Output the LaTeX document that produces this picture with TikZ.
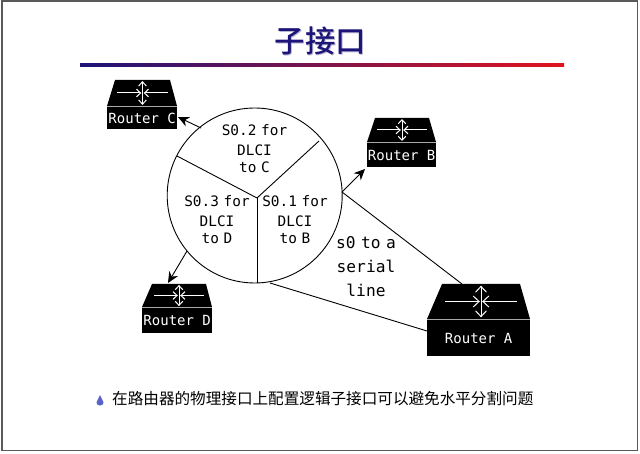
\documentclass[tikz,border=0pt]{standalone}
\usepackage{fontspec}
\usetikzlibrary{arrows.meta,shapes.geometric}
\newfontfamily\cjkf{Noto Sans CJK SC}
\newfontfamily\cjkb{Noto Sans CJK SC Medium}
\newfontfamily\monof{DejaVu Sans Mono}
\definecolor{navy}{RGB}{28,20,120}
\definecolor{ttshadow}{RGB}{185,185,210}
\definecolor{rulered}{RGB}{225,20,30}
\definecolor{drop}{RGB}{90,100,200}
\definecolor{sepgray}{RGB}{170,170,170}
\tikzset{
  x=1pt,y=-1pt,
  wire/.style={draw=black,line width=0.9pt},
  arrowwire/.style={wire,-{Stealth[length=11pt,width=10pt]}},
  mono/.style={font=\monof\fontsize{14.4}{17}\selectfont,align=center,inner sep=0pt,text=black},
  routertext/.style={font=\monof\fontsize{14}{16}\selectfont,text=white,inner sep=0pt},
  routertop/.style={fill=black,draw=none},
  routerbody/.style={fill=black,draw=none},
  icon/.style={draw=white,line width=1pt}
}
% \routerpic{name}{x1}{x2}{ytop}{ymid}{ybot}{topx1}{topx2}{label}
\newcommand{\routerpic}[9]{%
  \fill[routertop] (#7,#4) -- (#8,#4) -- (#3,#5-1) -- (#2,#5-1) -- cycle;
  \node[routerbody,minimum width=#3pt-#2pt,minimum height=#6pt-#5pt,inner sep=0pt,anchor=north west] (#1) at (#2,#5) {};
  \draw[sepgray,line width=0.8pt] (#2,#5-0.6) -- (#3,#5-0.6);
  \node[routertext] at (#1.center) {#9};
  \pgfmathsetmacro{\cx}{(#7+#8)/2}
  \pgfmathsetmacro{\cy}{(#4+#5)/2-0.5}
  \pgfmathsetmacro{\w}{(#8-#7)*0.46}
  \pgfmathsetmacro{\h}{(#5-#4)*0.44}
  \pgfmathsetmacro{\tl}{(#8-#7)*0.075}
  \pgfmathsetmacro{\tw}{(#8-#7)*0.14}
  \draw[icon,-{Straight Barb[length=\tl pt,width=\tw pt]}] (\cx-\w,\cy) -- (\cx-1.2,\cy);
  \draw[icon,-{Straight Barb[length=\tl pt,width=\tw pt]}] (\cx+\w,\cy) -- (\cx+1.2,\cy);
  \draw[icon,-{Straight Barb[length=\tl pt,width=\tw pt]}] (\cx,\cy) -- (\cx,\cy-\h);
  \draw[icon,-{Straight Barb[length=\tl pt,width=\tw pt]}] (\cx,\cy) -- (\cx,\cy+\h);
}
\begin{document}
\begin{tikzpicture}
\useasboundingbox (0,0) rectangle (640,454);
\fill[white] (0,0) rectangle (640,454);
\draw[draw=black!65,line width=1.3pt] (2,1) rectangle (637.7,450.8);
% title
\node[font=\cjkb\fontsize{30.5}{34}\selectfont,text=ttshadow,inner sep=0pt] (titleshadow) at (321.7,42.2) {子接口};
\node[font=\cjkb\fontsize{30.5}{34}\selectfont,text=navy,inner sep=0pt] (title) at (320.5,41) {子接口};
\shade[left color=navy,right color=rulered] (80,64) rectangle (564,67);
% routers
\routerpic{rc}{107}{177}{80}{107}{129}{115}{170}{Router C}
\routerpic{rb}{367}{436}{118}{143}{167}{375}{429}{Router B}
\routerpic{rd}{142}{212}{284}{308}{333}{152}{206}{Router D}
\routerpic{ra}{427}{530}{284}{320}{356}{442}{520}{Router A}
% circle
\node[circle,draw=black,line width=0.9pt,minimum size=175pt,inner sep=0pt] (disc) at (254.7,195.5) {};
\coordinate (hub) at (257,198);
\coordinate (spokeR) at (319,141);
\coordinate (spokeL) at (177,156);
\coordinate (spokeD) at (257,283);
\draw[wire] (hub) -- (spokeR);
\draw[wire] (hub) -- (spokeL);
\draw[wire] (hub) -- (spokeD);
% connectors
\coordinate (cfrom) at (201,128);
\coordinate (cto) at (178,117);
\coordinate (bfrom) at (342,192);
\coordinate (bto) at (365,169);
\coordinate (dfrom) at (187,251);
\coordinate (dto) at (168,283);
\coordinate (afrom) at (462,284);
\coordinate (alow) at (427,331);
\coordinate (dlow) at (270,283);
\draw[arrowwire] (cfrom) -- (cto);
\draw[arrowwire] (bfrom) -- (bto);
\draw[arrowwire] (dfrom) -- (dto);
\draw[wire] (bfrom) -- (afrom);
\draw[wire] (dlow) -- (alow);
% labels
\node[mono,text width=80pt] (l2) at (254.5,148.5) {\baselineskip=20pt S0.2 for\\DLCI\\to C};
\node[mono,text width=80pt] (l3) at (217,219.5) {\baselineskip=20pt S0.3 for\\DLCI\\to D};
\node[mono,text width=80pt] (l1) at (295,219.5) {\baselineskip=20pt S0.1 for\\DLCI\\to B};
\node[mono,text width=90pt,font=\monof\fontsize{16.2}{24}\selectfont] (l0) at (366,266.5) {\baselineskip=24pt s0 to a\\serial\\line};
% bullet
\fill[drop] (100,395) .. controls (100.5,398) and (103.5,400) .. (103.5,402.5) .. controls (103.5,406.5) and (96.5,406.5) .. (96.5,402.5) .. controls (96.5,400) and (99.5,398) .. (100,395) -- cycle;
\node[font=\cjkf\fontsize{15.6}{18}\selectfont,text=black,inner sep=0pt,anchor=west] (body) at (112,398.5) {在路由器的物理接口上配置逻辑子接口可以避免水平分割问题};
\end{tikzpicture}
\end{document}
